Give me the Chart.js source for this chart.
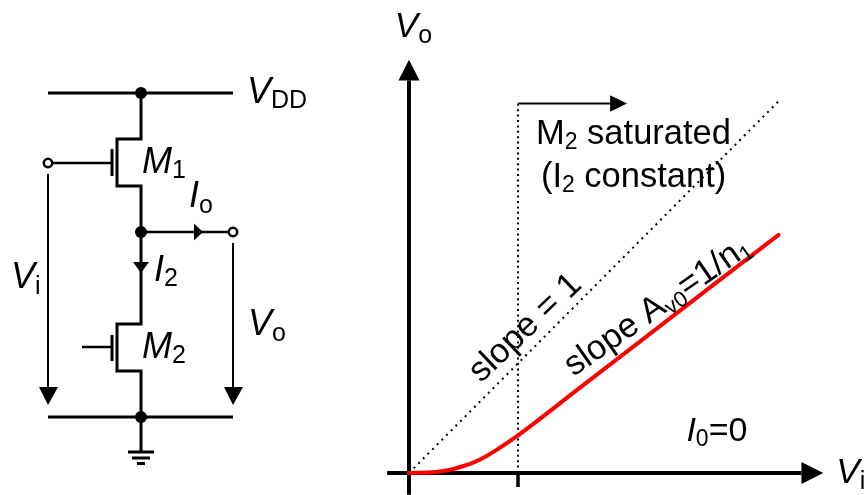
<!DOCTYPE html>
<html><head><meta charset="utf-8">
<style>html,body{margin:0;padding:0;background:#fff}canvas{display:block}</style>
<script src="https://cdn.jsdelivr.net/npm/chart.js@4/dist/chart.umd.min.js"></script>
</head><body><canvas id="c" width="864" height="495"></canvas>
<script>
// ---- transfer characteristic (Vi, Vo in units of the marked Vi tick) ----
const redCurve   = [[0,0],[0.2,0.006],[0.3,0.017],[0.4,0.035],[0.5,0.064],[0.6,0.1],[0.7,0.15],[0.8,0.21],[1.0,0.345],[1.56,0.776],[2.78,1.716],[3.39,2.185]];
const slopeOne   = [[0,0],[3.4,3.42]];
const satBoundary= [[1,0],[1,3.39]];
const satArrowLine=[[1,3.39],[1.85,3.39]];
const satArrowHead=[[1.845,3.465],[2.0,3.39],[1.845,3.315]];
const xAxisLine  = [[-0.2,0],[3.6,0]];
const xAxisHead  = [[3.6,0.1],[3.8,0],[3.6,-0.1]];
const yAxisLine  = [[0,-0.2],[0,3.6]];
const yAxisHead  = [[-0.097,3.6],[0,3.79],[0.097,3.6]];
const xTick      = [[1,0],[1,-0.128]];
// ---- circuit schematic (drawing units) ----
const railTop    = [[48,93],[233,93]];
const railBottom = [[48,417],[233,417]];
const m1Branch   = [[141,93],[141,139],[117,139],[117,186],[141,186],[141,324],[117,324],[117,371],[141,371],[141,452]];
const m1GateBar  = [[112,149],[112,176]];
const m1GateWire = [[48,163],[112,163]];
const m2GateBar  = [[112,335],[112,361]];
const m2GateWire = [[82,347],[112,347]];
const outWire    = [[141,232],[233,232]];
const viLine     = [[48,174],[48,388]];
const voLine     = [[233,243],[233,388]];
const viHead     = [[39,387],[48,405],[58,387]];
const voHead     = [[224,387],[233,405],[243,387]];
const ioHead     = [[194,223.5],[203,232],[194,240.5]];
const i2Head     = [[133,262],[141,273],[149,262]];
const gnd1       = [[128,452],[154,452]];
const gnd2       = [[132,458],[150,458]];
const gnd3       = [[137,463.5],[145,463.5]];
const junctions  = [[141,93],[141,232],[141,417]];
const terminals  = [[48,163],[233,232]];
// ---- text ----
const plotLabels = [
  {at:[-0.13,4.0], runs:[['V','i',35],['o','',25,6]]},
  {at:[3.92,-0.09], runs:[['V','i',35],['i','',25,6]]},
  {at:[1.165,3.02], runs:[['M','',34.5],['2','',23,5],[' saturated','',34.5]]},
  {at:[1.21,2.62], runs:[['(I','',34.5],['2','',23,5],[' constant)','',34.5]]},
  {at:[2.545,0.29], runs:[['I','i',34],['0','',23,5],['=0','',34]]},
  {at:[0.66,0.82], rot:-43.5, runs:[['slope = 1','',34.5]]},
  {at:[1.51,0.88], rot:-35, runs:[['slope A','',34.5],['v0','',22,5],['=1/n','',34.5],['1','',22,5]]}
];
const circuitLabels = [
  {at:[247,103], runs:[['V','i',36],['DD','',25,5]]},
  {at:[142,173], runs:[['M','i',36],['1','',25,5]]},
  {at:[142,358], runs:[['M','i',36],['2','',25,5]]},
  {at:[189,207], runs:[['I','i',36],['o','',25,6]]},
  {at:[154,281], runs:[['I','i',36],['2','',25,5]]},
  {at:[11,288], runs:[['V','i',36],['i','',25,6]]},
  {at:[248,335], runs:[['V','i',36],['o','',25,6]]}
];

const line=(data,width,extra)=>Object.assign({data,showLine:true,pointRadius:0,borderColor:'#000',borderWidth:width,borderCapStyle:'butt',borderJoinStyle:'miter',tension:0,fill:false,xAxisID:'x',yAxisID:'y'},extra||{});
const onCircuit={xAxisID:'cx',yAxisID:'cy'};
const head=(data,extra)=>line(data,0,Object.assign({fill:'shape',backgroundColor:'#000'},extra||{}));
const wire=(data,width)=>line(data,width,onCircuit);

// listed bottom to top; Chart.js paints the first dataset last, hence reverse()
const datasets=[
  line(slopeOne,2,{borderDash:[2,4.6]}),
  line(satBoundary,2,{borderDash:[2,3.4]}),
  line(satArrowLine,2),
  head(satArrowHead),
  line(xAxisLine,4),head(xAxisHead),
  line(yAxisLine,4),head(yAxisHead),
  line(xTick,3.5),
  line(redCurve,4,{borderColor:'#ff0000',borderCapStyle:'round',borderJoinStyle:'round',cubicInterpolationMode:'monotone'}),
  wire(railTop,3),wire(railBottom,3),wire(m1Branch,3),
  wire(m1GateBar,3),wire(m1GateWire,2.5),wire(m2GateBar,3),wire(m2GateWire,2.5),
  wire(outWire,2.5),wire(viLine,2),wire(voLine,2),
  head(viHead,onCircuit),head(voHead,onCircuit),head(ioHead,onCircuit),head(i2Head,onCircuit),
  wire(gnd1,3),wire(gnd2,3),wire(gnd3,3),
  Object.assign({data:junctions,showLine:false,pointRadius:6,pointBackgroundColor:'#000',pointBorderWidth:0},onCircuit),
  Object.assign({data:terminals,showLine:false,pointRadius:4.2,pointBackgroundColor:'#fff',pointBorderColor:'#000',pointBorderWidth:2.5},onCircuit)
].reverse();

const drawLabels=(ctx,labels,sx,sy)=>{
  for(const l of labels){
    ctx.save();
    ctx.translate(sx.getPixelForValue(l.at[0]),sy.getPixelForValue(l.at[1]));
    if(l.rot)ctx.rotate(l.rot*Math.PI/180);
    ctx.fillStyle='#000';ctx.textBaseline='alphabetic';ctx.textAlign='left';
    let x=0;
    for(const [t,style,size,dy] of l.runs){
      ctx.font=(style==='i'?'italic ':'')+size+'px "Liberation Sans", Arial, sans-serif';
      ctx.fillText(t,x,dy||0);
      x+=ctx.measureText(t).width;
    }
    ctx.restore();
  }
};
const textPlugin={id:'text',afterDatasetsDraw(chart){
  const s=chart.scales;
  drawLabels(chart.ctx,plotLabels,s.x,s.y);
  drawLabels(chart.ctx,circuitLabels,s.cx,s.cy);
}};
const hidden=(min,max,position,reverse)=>({type:'linear',display:false,min,max,position,reverse:!!reverse});

new Chart(document.getElementById('c'),{
  type:'scatter',
  data:{datasets},
  plugins:[textPlugin],
  options:{
    responsive:false,animation:false,events:[],
    layout:{padding:0,autoPadding:false},
    plugins:{legend:{display:false},tooltip:{enabled:false},title:{display:false}},
    scales:{
      x:hidden(-3.752,4.174,'bottom'),
      y:hidden(-0.2018,4.339,'left'),
      cx:hidden(0,864,'top'),
      cy:hidden(0,495,'right',true)
    }
  }
});
</script></body></html>
